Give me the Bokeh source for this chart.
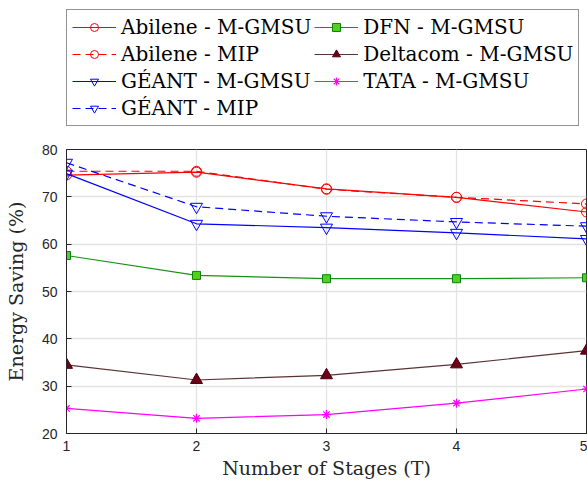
from bokeh.plotting import figure
from bokeh.layouts import column
from bokeh.models import Range1d, FixedTicker, Legend, LegendItem
from bokeh.embed import file_html
from bokeh.resources import INLINE

stages = [1, 2, 3, 4, 5]
abilene_mgmsu = [74.6, 75.2, 71.7, 69.9, 66.8]
abilene_mip = [75.4, 75.4, 71.6, 69.9, 68.5]
geant_mgmsu = [74.9, 64.3, 63.5, 62.4, 61.1]
geant_mip = [77.2, 67.9, 65.9, 64.7, 63.8]
dfn_mgmsu = [57.6, 53.4, 52.7, 52.7, 52.9]
deltacom_mgmsu = [34.5, 31.3, 32.3, 34.6, 37.5]
tata_mgmsu = [25.3, 23.2, 24.0, 26.4, 29.4]

x_ticks = [1, 2, 3, 4, 5]
y_ticks = [20, 30, 40, 50, 60, 70, 80]

labels = ["Abilene - M-GMSU", "Abilene - MIP", "GÉANT - M-GMSU", "GÉANT - MIP",
          "DFN - M-GMSU", "Deltacom - M-GMSU", "TATA - M-GMSU"]

DARK = "#262626"
SERIF = "DejaVu Serif"
SANS = "Liberation Sans"
LW = 1.2

series = [
    (abilene_mgmsu, dict(line_color="#ff0000"),
     dict(marker="circle", size=10, line_color="#ff0000", fill_color=None, line_width=1)),
    (abilene_mip, dict(line_color="#ff0000", line_dash="8 5"),
     dict(marker="circle", size=10, line_color="#ff0000", fill_color=None, line_width=1)),
    (geant_mgmsu, dict(line_color="#0000ff"),
     dict(marker="inverted_triangle", size=12, line_color="#0000ff", fill_color=None, line_width=1)),
    (geant_mip, dict(line_color="#0000ff", line_dash="8 5"),
     dict(marker="inverted_triangle", size=12, line_color="#0000ff", fill_color=None, line_width=1)),
    (dfn_mgmsu, dict(line_color="#149414"),
     dict(marker="square", size=8, line_color="#0e800e", fill_color="#52d01e", line_width=1)),
    (deltacom_mgmsu, dict(line_color="#5a3434"),
     dict(marker="triangle", size=12, line_color="#4a0010", fill_color="#6b0016", line_width=1)),
    (tata_mgmsu, dict(line_color="#ff00ff"),
     dict(marker="asterisk", size=9, line_color="#ff00ff", line_width=1.2)),
]

# ---------------- main chart ----------------
p = figure(width=587, height=343, output_backend="svg", toolbar_location=None,
           x_range=Range1d(1, 5), y_range=Range1d(20, 80),
           min_border_left=66, min_border_right=1, min_border_top=9,
           min_border_bottom=50)
p.background_fill_color = "white"
p.border_fill_color = "white"
p.outline_line_color = DARK
p.outline_line_width = 1

for ax in (p.xaxis[0], p.yaxis[0]):
    ax.axis_line_color = DARK
    ax.major_tick_line_color = DARK
    ax.major_tick_in = 5
    ax.major_tick_out = 0
    ax.minor_tick_line_color = None
    ax.major_label_text_font = SANS
    ax.major_label_text_font_size = "14px"
    ax.major_label_text_color = DARK
    ax.axis_label_text_font = SERIF
    ax.axis_label_text_font_size = "19px"
    ax.axis_label_text_font_style = "normal"
    ax.axis_label_text_color = DARK

p.xaxis[0].ticker = FixedTicker(ticks=x_ticks)
p.yaxis[0].ticker = FixedTicker(ticks=y_ticks)
p.xaxis[0].axis_label = "Number of Stages (T)"
p.yaxis[0].axis_label = "Energy Saving (%)"
p.xaxis[0].major_label_standoff = 7
p.yaxis[0].major_label_standoff = 9
p.xaxis[0].axis_label_standoff = 3
p.yaxis[0].axis_label_standoff = 12

p.xgrid.ticker = FixedTicker(ticks=x_ticks)
p.ygrid.ticker = FixedTicker(ticks=y_ticks)
p.xgrid.grid_line_color = "#e3e3e3"
p.ygrid.grid_line_color = "#e3e3e3"
p.xgrid.grid_line_width = 1.3
p.ygrid.grid_line_width = 1.3

for ys, lkw, mkw in series:
    p.line(stages, ys, line_width=LW, **lkw)
    p.scatter(stages, ys, **mkw)

# ---------------- legend strip ----------------
q = figure(width=587, height=140, output_backend="svg", toolbar_location=None,
           x_range=Range1d(100, 101), y_range=Range1d(100, 101),
           x_axis_type=None, y_axis_type=None,
           min_border_left=60, min_border_right=1, min_border_top=9, min_border_bottom=10)
q.outline_line_color = None
q.grid.visible = False
q.background_fill_color = "white"
q.border_fill_color = "white"

items = []
for (ys, lkw, mkw), lab in zip(series, labels):
    lr = q.line(stages, ys, line_width=LW, **lkw)
    mr = q.scatter(stages, ys, **mkw)
    items.append(LegendItem(label=lab, renderers=[lr, mr]))

legend = Legend(items=items, location="top_left", orientation="vertical", nrows=4)
legend.label_text_font = SERIF
legend.label_text_font_size = "20px"
legend.label_text_font_style = "normal"
legend.label_text_color = "black"
legend.label_height = 23
legend.glyph_height = 20
legend.glyph_width = 44
legend.label_standoff = 5
legend.spacing = 3
legend.padding = 5
legend.margin = 0
legend.border_line_color = DARK
legend.border_line_width = 1
legend.background_fill_color = "white"
legend.background_fill_alpha = 1
q.add_layout(legend, "center")

layout = column(q, p, spacing=0)
open("out.html", "w").write(file_html(layout, INLINE))
